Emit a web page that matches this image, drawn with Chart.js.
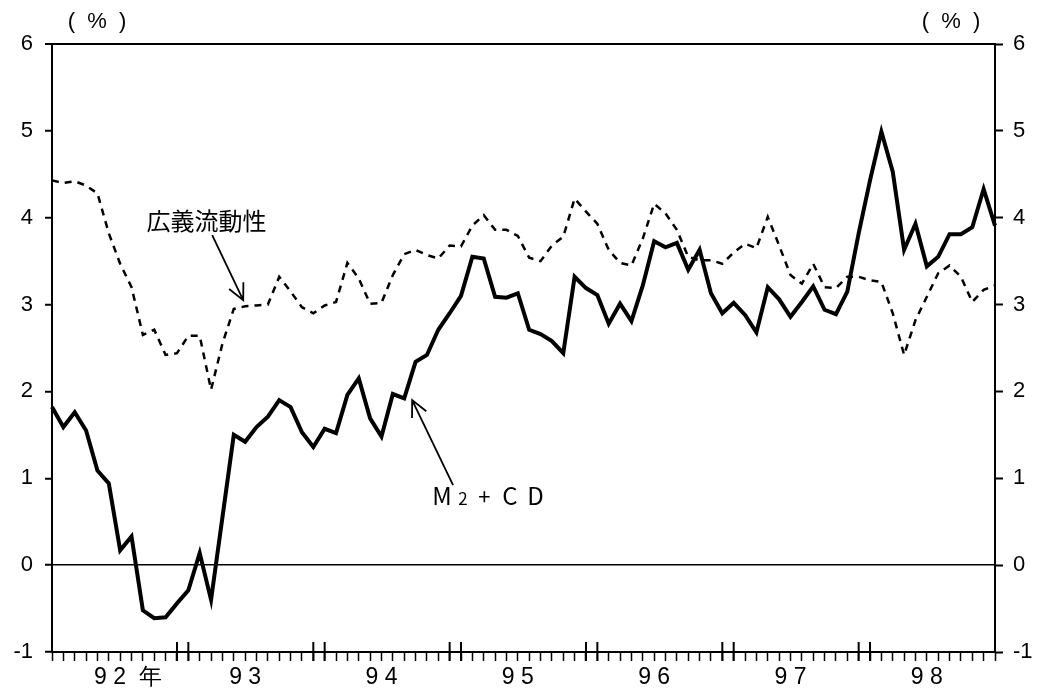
<!DOCTYPE html>
<html lang="ja">
<head>
  <meta charset="UTF-8">
  <title>M2+CD と広義流動性</title>
  <script src="https://cdn.jsdelivr.net/npm/chart.js"></script>
  <style>
    body { margin: 0; background: #fff; }
    canvas { display: block; }
  </style>
</head>
<body>
  <canvas id="grafico" width="1039" height="699"></canvas>

<script>
  // 年（1992〜1998）、月次
  const anos = [92, 93, 94, 95, 96, 97, 98];
  const yTicks = [-1, 0, 1, 2, 3, 4, 5, 6];

  // M2+CD 前年比（%）
  const m2cd = [
    1.82, 1.59, 1.76, 1.55, 1.09, 0.94, 0.17, 0.33, -0.52, -0.61, -0.60, -0.44,
    -0.29, 0.14, -0.40, 0.55, 1.50, 1.42, 1.59, 1.71, 1.90, 1.82, 1.53, 1.36,
    1.57, 1.52, 1.96, 2.15, 1.69, 1.48, 1.97, 1.92, 2.34, 2.42, 2.71, 2.90,
    3.10, 3.55, 3.53, 3.09, 3.08, 3.13, 2.71, 2.66, 2.58, 2.44, 3.32, 3.19,
    3.11, 2.78, 3.01, 2.81, 3.22, 3.73, 3.66, 3.71, 3.40, 3.63, 3.13, 2.90,
    3.02, 2.88, 2.68, 3.20, 3.06, 2.86, 3.03, 3.21, 2.94, 2.89, 3.15, 3.82,
    4.43, 4.99, 4.53, 3.63, 3.93, 3.44, 3.55, 3.81, 3.81, 3.89, 4.33, 3.91
  ];

  // 広義流動性 前年比（%）
  const kogi = [
    4.43, 4.40, 4.42, 4.37, 4.28, 3.82, 3.47, 3.20, 2.65, 2.71, 2.42, 2.44,
    2.64, 2.64, 2.02, 2.55, 2.95, 2.98, 2.99, 3.00, 3.32, 3.15, 2.97, 2.90,
    2.99, 3.03, 3.48, 3.30, 3.01, 3.02, 3.34, 3.58, 3.63, 3.57, 3.53, 3.68,
    3.67, 3.91, 4.03, 3.86, 3.86, 3.79, 3.54, 3.50, 3.68, 3.78, 4.22, 4.07,
    3.93, 3.63, 3.48, 3.45, 3.76, 4.16, 4.05, 3.86, 3.55, 3.51, 3.51, 3.47,
    3.60, 3.70, 3.65, 4.01, 3.68, 3.34, 3.24, 3.47, 3.20, 3.19, 3.32, 3.32,
    3.28, 3.26, 2.90, 2.42, 2.82, 3.09, 3.36, 3.45, 3.32, 3.03, 3.17, 3.22
  ];

  const meses = [];
  anos.forEach(function (a) {
    for (let m = 1; m <= 12; m++) meses.push(a + '/' + m);
  });

  const fonteNum = "'Liberation Sans', Arial, sans-serif";
  const fonteJp = "'Noto Sans CJK JP', 'Noto Sans', sans-serif";

  function rotuloAno(i) {
    if (i % 12 !== 5) return '';
    const a = String(anos[Math.floor(i / 12)]);
    const txt = a[0] + ' ' + a[1];
    if (i === 5) return '      ' + txt + '  年';
    return txt;
  }

  function seta(ctx, x1, y1, x2, y2) {
    const ang = Math.atan2(y1 - y2, x1 - x2);
    const len = 18, abre = 26 * Math.PI / 180;
    ctx.beginPath();
    ctx.moveTo(x1, y1);
    ctx.lineTo(x2, y2);
    ctx.moveTo(x2 + len * Math.cos(ang - abre), y2 + len * Math.sin(ang - abre));
    ctx.lineTo(x2, y2);
    ctx.lineTo(x2 + len * Math.cos(ang + abre), y2 + len * Math.sin(ang + abre));
    ctx.stroke();
  }

  // tracinhos altos na virada do ano, setas e textos
  const extras = {
    id: 'extras',
    afterDatasetsDraw(chart) {
      const ctx = chart.ctx;
      const x = chart.scales.x, y = chart.scales.y;
      const area = chart.chartArea;
      ctx.save();
      ctx.strokeStyle = '#000';
      ctx.fillStyle = '#000';

      ctx.lineWidth = 2;
      for (let k = 1; k < anos.length; k++) {
        [12 * k - 1, 12 * k].forEach(function (i) {
          const px = x.getPixelForValue(i);
          ctx.beginPath();
          ctx.moveTo(px, area.bottom - 10);
          ctx.lineTo(px, area.bottom + 9);
          ctx.stroke();
        });
      }

      ctx.lineWidth = 1.8;
      seta(ctx, x.getPixelForValue(14.1), y.getPixelForValue(3.80),
        x.getPixelForValue(16.83), y.getPixelForValue(3.05));
      seta(ctx, x.getPixelForValue(35.3), y.getPixelForValue(0.92),
        x.getPixelForValue(31.7), y.getPixelForValue(1.90));

      ctx.font = '24px ' + fonteJp;
      ctx.textAlign = 'center';
      ctx.textBaseline = 'middle';
      ctx.fillText('広義流動性', x.getPixelForValue(13.6), y.getPixelForValue(3.96));

      const mx = x.getPixelForValue(33.47), my = y.getPixelForValue(0.69);
      ctx.textAlign = 'left';
      ctx.textBaseline = 'alphabetic';
      ctx.font = '24px ' + fonteJp;
      ctx.fillText('M', mx, my);
      ctx.font = '17px ' + fonteJp;
      ctx.fillText('2', mx + 26, my);
      ctx.font = '22px ' + fonteJp;
      ctx.fillText('+', mx + 46, my);
      ctx.font = '24px ' + fonteJp;
      ctx.fillText('C', mx + 70, my);
      ctx.fillText('D', mx + 95, my);

      ctx.font = '22px ' + fonteNum;
      ctx.textAlign = 'center';
      ctx.textBaseline = 'middle';
      ctx.fillText('(  %  )', area.left + 45, area.top - 22);
      ctx.fillText('(  %  )', area.right - 44, area.top - 22);
      ctx.restore();
    }
  };

  const config = {
    type: 'line',
    data: {
      labels: meses,
      datasets: [
        {
          label: '広義流動性',
          data: kogi,
          borderColor: '#000',
          borderWidth: 2.5,
          borderDash: [7, 6],
          pointRadius: 0,
          tension: 0,
          fill: false
        },
        {
          label: 'M2+CD',
          data: m2cd,
          borderColor: '#000',
          borderWidth: 4,
          pointRadius: 0,
          tension: 0,
          fill: false
        }
      ]
    },
    options: {
      responsive: false,
      animation: false,
      layout: { padding: { top: 44, left: 0, right: 0, bottom: 0 } },
      plugins: {
        legend: { display: false },
        tooltip: { enabled: false }
      },
      scales: {
        x: {
          offset: false,
          afterFit: function (s) { s.height = 47; },
          border: { display: true, color: '#000', width: 2 },
          grid: {
            drawOnChartArea: false,
            drawTicks: true,
            tickLength: 9,
            tickColor: '#000',
            tickWidth: 1.5
          },
          ticks: {
            autoSkip: false,
            maxRotation: 0,
            minRotation: 0,
            padding: 3,
            color: '#000',
            font: { size: 23, family: fonteNum },
            callback: function (v, i) { return rotuloAno(i); }
          }
        },
        y: {
          position: 'left',
          min: -1,
          max: 6,
          afterFit: function (s) { s.width = 52; },
          afterBuildTicks: function (s) { s.ticks = yTicks.map(function (v) { return { value: v }; }); },
          border: { display: true, color: '#000', width: 2 },
          grid: {
            drawOnChartArea: true,
            color: function (c) { return (c.tick && (c.tick.value === 0 || c.tick.value === 6)) ? '#000' : 'rgba(0,0,0,0)'; },
            lineWidth: function (c) { return (c.tick && c.tick.value === 6) ? 2 : 1.5; },
            tickLength: 7,
            tickColor: '#000',
            tickWidth: 2
          },
          ticks: {
            padding: 12,
            color: '#000',
            font: { size: 22, family: fonteNum }
          }
        },
        y1: {
          position: 'right',
          min: -1,
          max: 6,
          afterFit: function (s) { s.width = 44; },
          afterBuildTicks: function (s) { s.ticks = yTicks.map(function (v) { return { value: v }; }); },
          border: { display: true, color: '#000', width: 2 },
          grid: {
            drawOnChartArea: false,
            tickLength: 8,
            tickColor: '#000',
            tickWidth: 2
          },
          ticks: {
            padding: 10,
            color: '#000',
            font: { size: 22, family: fonteNum }
          }
        }
      }
    },
    plugins: [extras]
  };

  new Chart(document.getElementById('grafico'), config);
</script>
</body>
</html>
